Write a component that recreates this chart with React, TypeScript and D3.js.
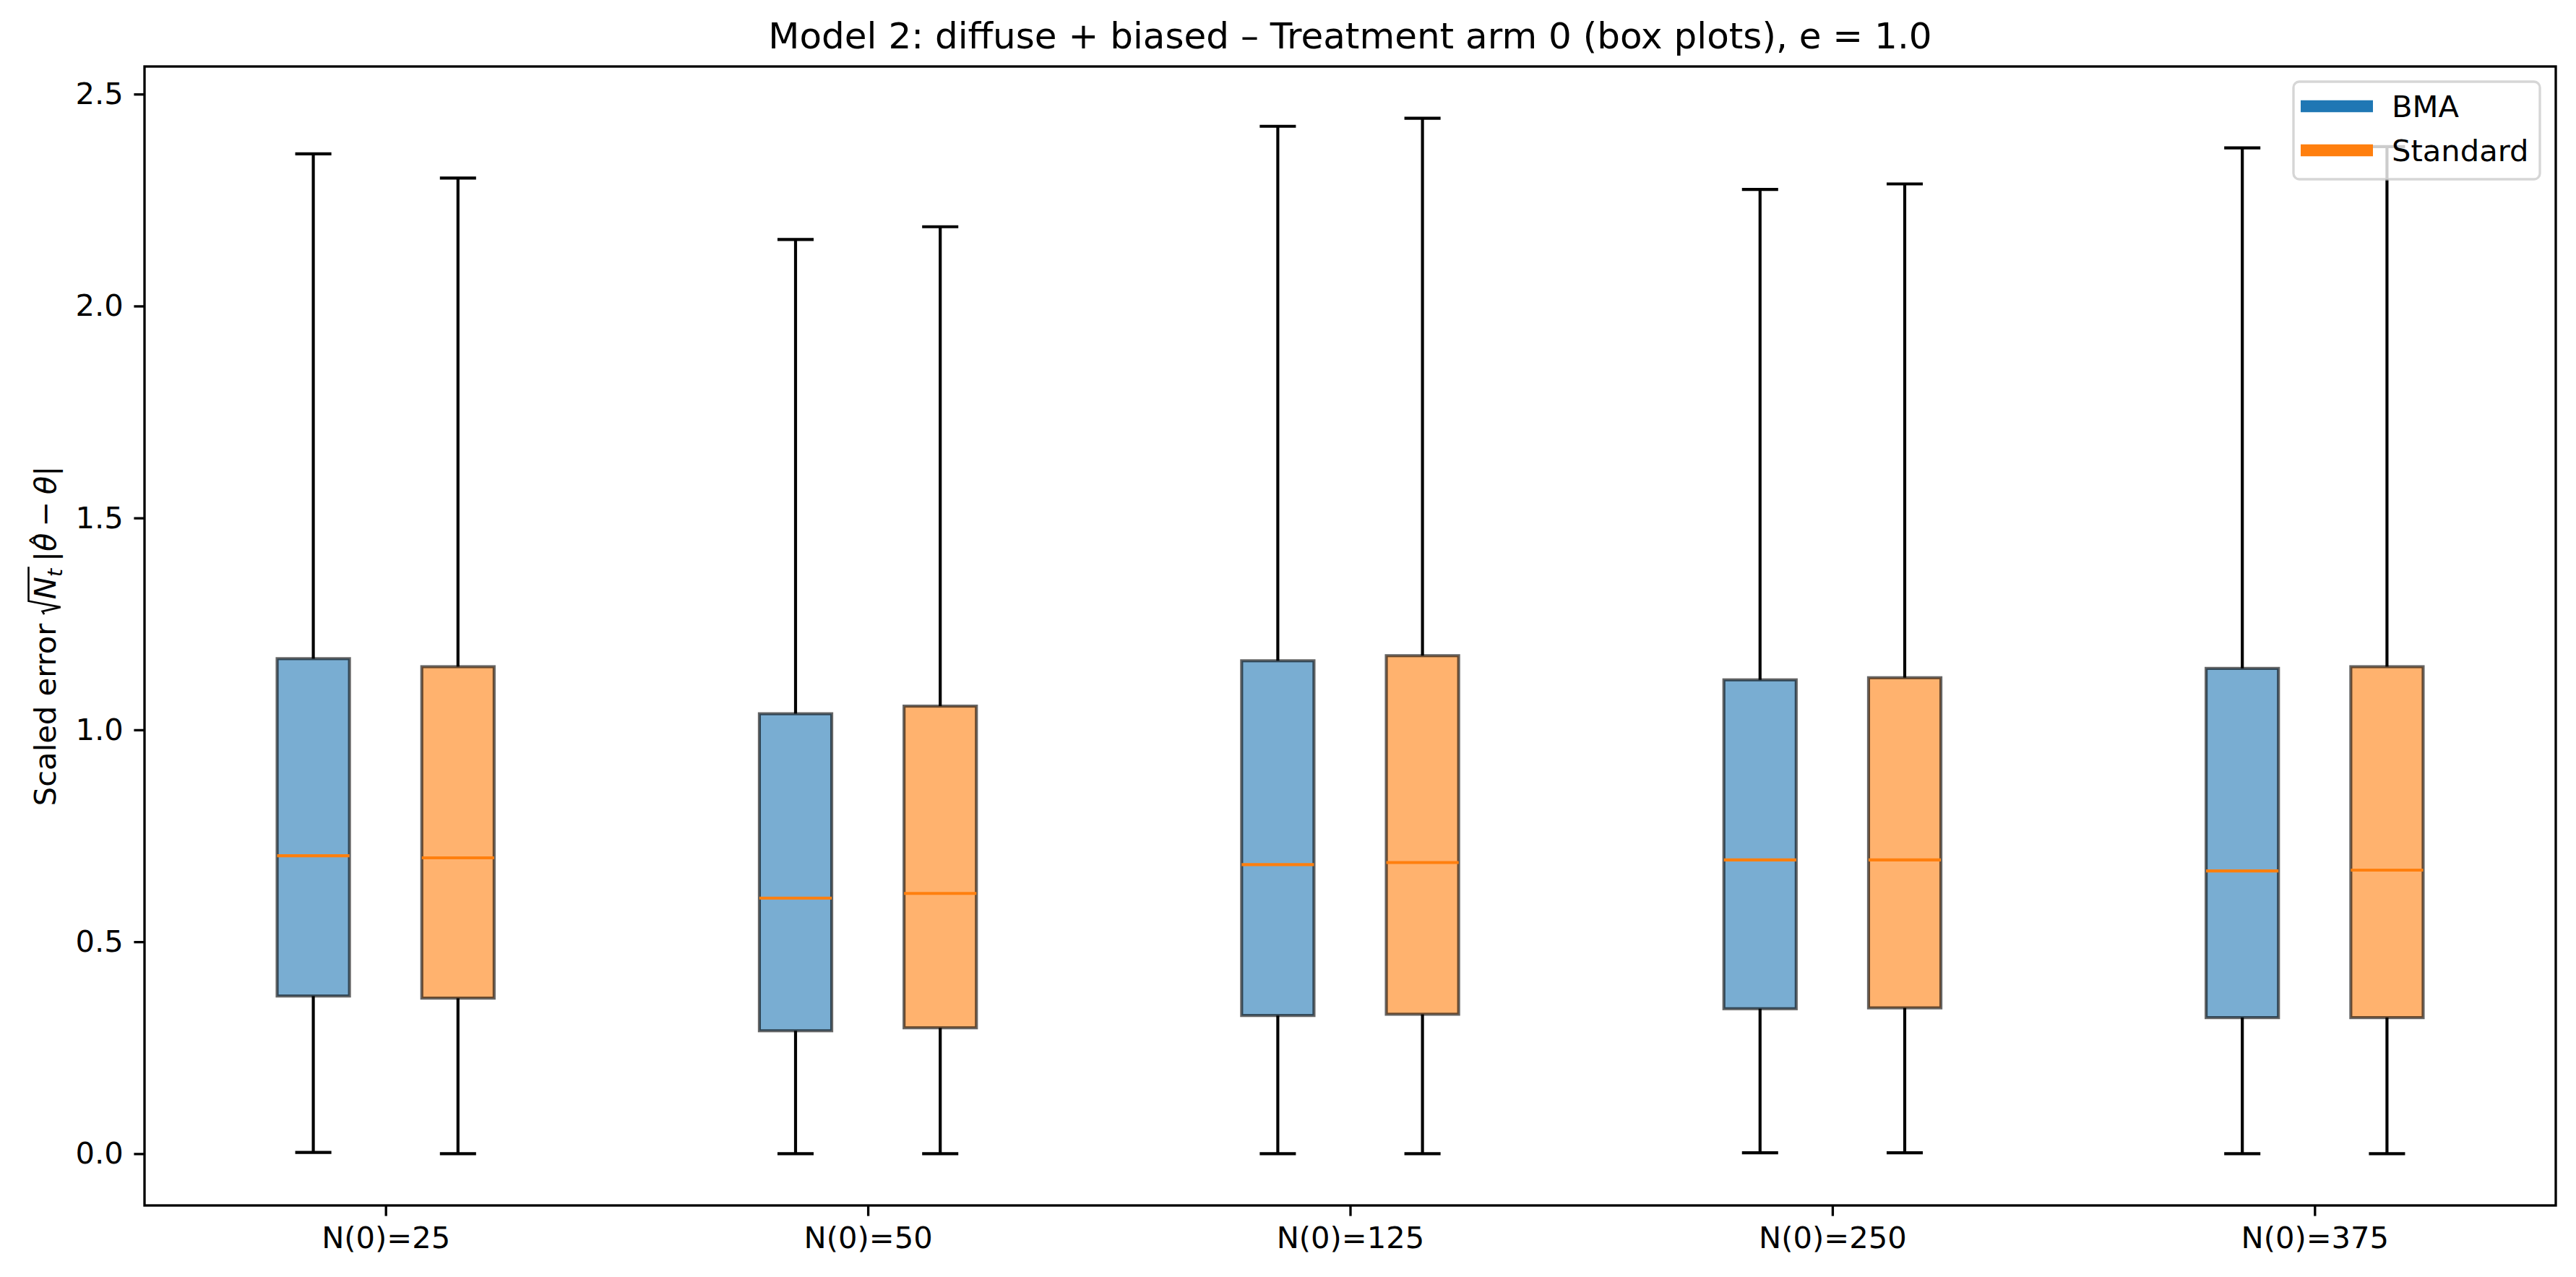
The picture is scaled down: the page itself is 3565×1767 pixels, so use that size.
import React, { useEffect, useRef } from 'react';
import * as d3 from 'd3';

// values (box = Q1..Q3, whiskers = low..high)
const categories = ['N(0)=25', 'N(0)=50', 'N(0)=125', 'N(0)=250', 'N(0)=375'];

const bmaLow = [0.003, 0.0, 0.0, 0.002, 0.0];
const bmaQ1 = [0.372, 0.29, 0.326, 0.342, 0.321];
const bmaMedian = [0.703, 0.603, 0.682, 0.693, 0.667];
const bmaQ3 = [1.168, 1.038, 1.163, 1.118, 1.145];
const bmaHigh = [2.359, 2.157, 2.424, 2.275, 2.373];

const stdLow = [0.0, 0.0, 0.0, 0.002, 0.0];
const stdQ1 = [0.367, 0.297, 0.329, 0.344, 0.321];
const stdMedian = [0.698, 0.614, 0.687, 0.693, 0.669];
const stdQ3 = [1.149, 1.056, 1.175, 1.123, 1.149];
const stdHigh = [2.302, 2.187, 2.443, 2.288, 2.376];

const yTicks = [0, 0.5, 1.0, 1.5, 2.0, 2.5];

const W = 3565;
const H = 1767;

interface Series {
  name: string;
  color: string;
  offset: number;
  low: number[];
  q1: number[];
  median: number[];
  q3: number[];
  high: number[];
}

const series: Series[] = [
  { name: 'BMA', color: '#1f77b4', offset: -0.15, low: bmaLow, q1: bmaQ1, median: bmaMedian, q3: bmaQ3, high: bmaHigh },
  { name: 'Standard', color: '#ff7f0e', offset: 0.15, low: stdLow, q1: stdQ1, median: stdMedian, q3: stdQ3, high: stdHigh },
];

const App: React.FC = () => {
  const svgRef = useRef<SVGSVGElement | null>(null);

  useEffect(() => {
    if (!svgRef.current) return;
    document.body.style.margin = '0';

    const svg = d3.select(svgRef.current);
    svg.selectAll('*').remove();

    const font = 'DejaVu Sans, sans-serif';
    const fs = 41.67; // 10pt @ 300dpi
    const lw = 4.17; // 1pt
    const spineW = 3.33;

    const x0 = 200, x1 = 3537, y0 = 92, y1 = 1668;

    const x = d3.scaleLinear().domain([-0.5, categories.length - 0.5]).range([x0, x1]);
    const hi = d3.max(series.flatMap(s => s.high))!;
    const lo = d3.min(series.flatMap(s => s.low))!;
    const pad = (hi - lo) * 0.05;
    const y = d3.scaleLinear().domain([lo - pad, hi + pad]).range([y1, y0]);

    const boxW = x(0.15) - x(0);
    const capW = boxW / 2;

    svg.append('rect').attr('width', W).attr('height', H).attr('fill', '#fff');

    const chart = svg.append('g');

    // boxes
    series.forEach(s => {
      const g = chart.append('g');
      categories.forEach((_, i) => {
        const cx = x(i + s.offset);
        // whiskers
        g.append('line')
          .attr('x1', cx).attr('x2', cx)
          .attr('y1', y(s.q1[i])).attr('y2', y(s.low[i]))
          .attr('stroke', '#000').attr('stroke-width', lw);
        g.append('line')
          .attr('x1', cx).attr('x2', cx)
          .attr('y1', y(s.q3[i])).attr('y2', y(s.high[i]))
          .attr('stroke', '#000').attr('stroke-width', lw);
        // caps
        [s.low[i], s.high[i]].forEach(v => {
          g.append('line')
            .attr('x1', cx - capW / 2).attr('x2', cx + capW / 2)
            .attr('y1', y(v)).attr('y2', y(v))
            .attr('stroke', '#000').attr('stroke-width', lw);
        });
        // box
        g.append('rect')
          .attr('x', cx - boxW / 2)
          .attr('y', y(s.q3[i]))
          .attr('width', boxW)
          .attr('height', y(s.q1[i]) - y(s.q3[i]))
          .attr('fill', s.color).attr('fill-opacity', 0.6)
          .attr('stroke', '#000').attr('stroke-opacity', 0.6)
          .attr('stroke-width', lw);
        // median
        g.append('line')
          .attr('x1', cx - boxW / 2).attr('x2', cx + boxW / 2)
          .attr('y1', y(s.median[i])).attr('y2', y(s.median[i]))
          .attr('stroke', '#ff7f0e').attr('stroke-width', lw);
      });
    });

    // Y axis
    const yAxis = chart.append('g')
      .attr('transform', `translate(${x0},0)`)
      .call(d3.axisLeft(y).tickValues(yTicks).tickFormat(d => d3.format('.1f')(d as number)).tickSize(14.6).tickPadding(14.6));
    yAxis.select('.domain').remove();
    yAxis.selectAll('line').attr('stroke-width', spineW);
    yAxis.selectAll('text').attr('font-size', fs).attr('font-family', font).attr('fill', '#000');

    // X axis
    const xAxis = chart.append('g')
      .attr('transform', `translate(0,${y1})`)
      .call(d3.axisBottom(x).tickValues(d3.range(categories.length)).tickFormat(d => categories[d as number]).tickSize(14.6).tickPadding(14.6));
    xAxis.select('.domain').remove();
    xAxis.selectAll('line').attr('stroke-width', spineW);
    xAxis.selectAll('text').attr('font-size', fs).attr('font-family', font).attr('fill', '#000');

    // spines
    chart.append('rect')
      .attr('x', x0).attr('y', y0)
      .attr('width', x1 - x0).attr('height', y1 - y0)
      .attr('fill', 'none').attr('stroke', '#000').attr('stroke-width', spineW);

    // title
    svg.append('text')
      .attr('x', (x0 + x1) / 2).attr('y', 67)
      .attr('text-anchor', 'middle')
      .attr('font-family', font).attr('font-size', 50)
      .text('Model 2: diffuse + biased – Treatment arm 0 (box plots), e = 1.0');

    // y label (mathtext-ish)
    const lab = svg.append('g')
      .attr('transform', `translate(77,${(y0 + y1) / 2}) rotate(-90)`)
      .attr('font-family', font);
    const inner = lab.append('g');
    let cur = 0;
    const put = (txt: string, opts: { italic?: boolean; size?: number; dy?: number } = {}) => {
      const t = inner.append('text')
        .attr('x', cur).attr('y', opts.dy || 0)
        .attr('font-size', opts.size || fs)
        .attr('font-style', opts.italic ? 'italic' : 'normal')
        .text(txt);
      const w = (t.node() as SVGTextElement).getComputedTextLength();
      const start = cur;
      cur += w;
      return { start, w };
    };
    put('Scaled error');
    cur += 0.3 * fs;
    const rx = cur;
    cur += 0.5 * fs;
    put('N', { italic: true });
    put('t', { italic: true, size: fs * 0.7, dy: fs * 0.22 });
    const nEnd = cur + 0.06 * fs;
    inner.append('path')
      .attr('d', `M${rx},${-0.38 * fs} L${rx + 0.1 * fs},${-0.44 * fs} L${rx + 0.24 * fs},${0.16 * fs} L${rx + 0.44 * fs},${-0.9 * fs} H${nEnd}`)
      .attr('fill', 'none').attr('stroke', '#000').attr('stroke-width', 2.6);
    cur = nEnd + 0.17 * fs;
    put('|');
    const th = put('θ', { italic: true });
    inner.append('text')
      .attr('x', th.start + th.w * 0.6).attr('y', -0.2 * fs)
      .attr('text-anchor', 'middle')
      .attr('font-size', fs * 0.85)
      .text('ˆ');
    cur += 0.22 * fs;
    put('−');
    cur += 0.22 * fs;
    put('θ', { italic: true });
    put('|');
    inner.attr('transform', `translate(${-cur / 2},0)`);

    // legend
    const lgX = 3174, lgY = 113;
    const legend = svg.append('g');
    legend.append('rect')
      .attr('x', lgX).attr('y', lgY)
      .attr('width', 341).attr('height', 135)
      .attr('rx', 8).attr('ry', 8)
      .attr('fill', '#fff').attr('fill-opacity', 0.8)
      .attr('stroke', '#cccccc').attr('stroke-opacity', 0.8)
      .attr('stroke-width', spineW);
    series.forEach((s, i) => {
      const cy = lgY + 34 + i * 61;
      legend.append('line')
        .attr('x1', lgX + 10).attr('x2', lgX + 110)
        .attr('y1', cy).attr('y2', cy)
        .attr('stroke', s.color).attr('stroke-width', 16.67);
      legend.append('text')
        .attr('x', lgX + 136).attr('y', cy + 14.5)
        .attr('font-family', font).attr('font-size', fs)
        .text(s.name);
    });
  }, []);

  return <svg ref={svgRef} width={W} height={H} style={{ display: 'block' }} />;
};

export default App;
